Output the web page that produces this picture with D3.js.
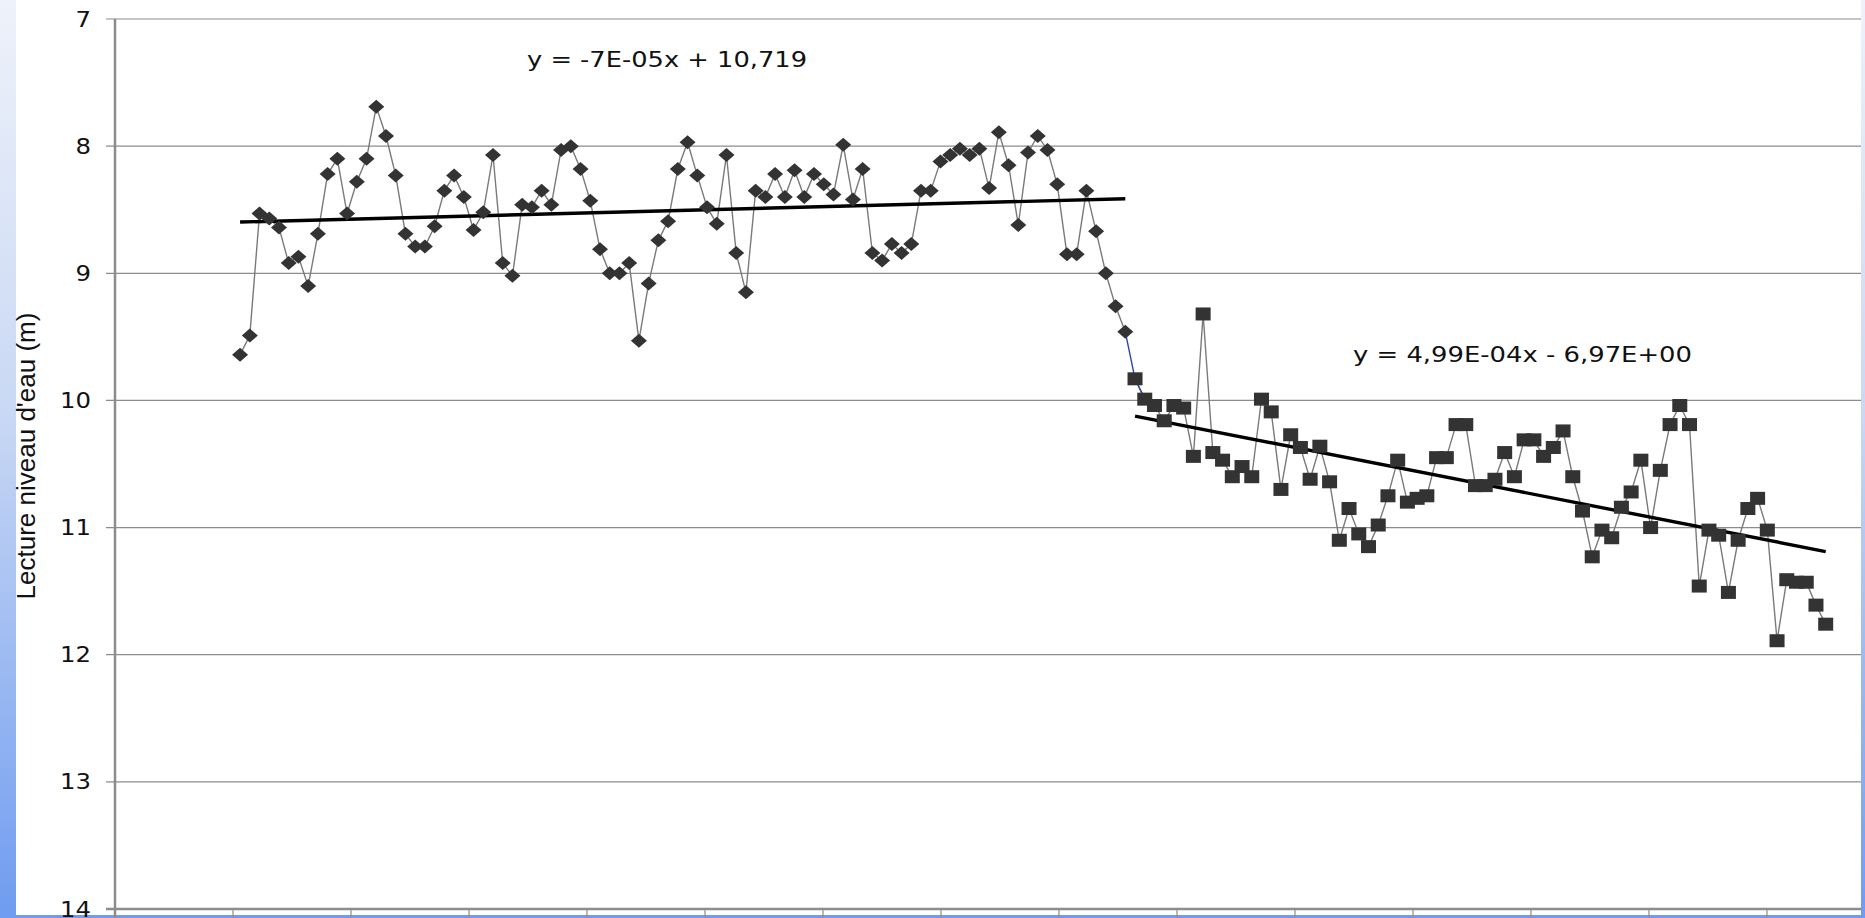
<!DOCTYPE html>
<html>
<head>
<meta charset="utf-8">
<script src="https://cdn.jsdelivr.net/npm/d3@7"></script>
<style>
  html, body { margin: 0; padding: 0; background: #ffffff; }
  svg { display: block; }
</style>
</head>
<body>
<svg id="chart"></svg>
<script>
var w = 1865;
var h = 918;

// water level readings (m), first period (diamonds)
var niveau1 = [
  9.64, 9.49, 8.53, 8.57, 8.64, 8.92, 8.87, 9.10, 8.69, 8.22,
  8.10, 8.53, 8.28, 8.10, 7.69, 7.92, 8.23, 8.69, 8.79, 8.79,
  8.63, 8.35, 8.23, 8.40, 8.66, 8.52, 8.07, 8.92, 9.02, 8.46,
  8.48, 8.35, 8.46, 8.03, 8.00, 8.18, 8.43, 8.81, 9.00, 9.00,
  8.92, 9.53, 9.08, 8.74, 8.59, 8.18, 7.97, 8.23, 8.48, 8.61,
  8.07, 8.84, 9.15, 8.35, 8.40, 8.22, 8.40, 8.19, 8.40, 8.22,
  8.30, 8.38, 7.99, 8.42, 8.18, 8.84, 8.90, 8.77, 8.84, 8.77,
  8.35, 8.35, 8.12, 8.07, 8.02, 8.07, 8.02, 8.33, 7.89, 8.15,
  8.62, 8.05, 7.92, 8.03, 8.30, 8.85, 8.85, 8.35, 8.67, 9.00,
  9.26, 9.46
];

// water level readings (m), second period (squares)
var niveau2 = [
  9.83, 9.99, 10.04, 10.16, 10.04, 10.06, 10.44, 9.32, 10.41, 10.47,
  10.60, 10.52, 10.60, 9.99, 10.09, 10.70, 10.27, 10.37, 10.62, 10.36,
  10.64, 11.10, 10.85, 11.05, 11.15, 10.98, 10.75, 10.47, 10.80, 10.77,
  10.75, 10.45, 10.45, 10.19, 10.19, 10.67, 10.67, 10.62, 10.41, 10.60,
  10.31, 10.31, 10.44, 10.37, 10.24, 10.60, 10.87, 11.23, 11.02, 11.08,
  10.84, 10.72, 10.47, 11.00, 10.55, 10.19, 10.04, 10.19, 11.46, 11.02,
  11.06, 11.51, 11.10, 10.85, 10.77, 11.02, 11.89, 11.41, 11.43, 11.43,
  11.61, 11.76
];

var yTicks = [7, 8, 9, 10, 11, 12, 13, 14];
var xTicks = d3.range(0, 15);   // one tick per year
var eq1 = "y = -7E-05x + 10,719";
var eq2 = "y = 4,99E-04x - 6,97E+00";
var yLabel = "Lecture niveau d'eau (m)";

// readings are roughly every 30 days, first one ~1 year after axis start
var firstReading = 1.06;
var readingsPerYear = 12.13;

var plotLeft = 115, plotRight = 1859, plotTop = 19, plotBottom = 909;

var x = d3.scaleLinear().domain([0, 14.78]).range([plotLeft, plotRight]);
var y = d3.scaleLinear().domain([7, 14]).range([plotTop, plotBottom]);

var data1 = niveau1.map(function(v, i) {
  return {t: firstReading + i / readingsPerYear, v: v};
});
var data2 = niveau2.map(function(v, i) {
  return {t: firstReading + (i + niveau1.length) / readingsPerYear, v: v};
});

var svg = d3.select("#chart").attr("width", w).attr("height", h);

// slide background
var grad = svg.append("defs").append("linearGradient")
  .attr("id", "bg").attr("x1", 0).attr("y1", 0).attr("x2", 0).attr("y2", 1);
grad.append("stop").attr("offset", "0%").attr("stop-color", "#eef2fa");
grad.append("stop").attr("offset", "45%").attr("stop-color", "#c9d8f4");
grad.append("stop").attr("offset", "100%").attr("stop-color", "#6f9cf0");

svg.append("rect").attr("width", w).attr("height", h).attr("fill", "url(#bg)");
svg.append("rect").attr("x", 16).attr("y", 0)
  .attr("width", 1861 - 16).attr("height", 915).attr("fill", "#ffffff");

// gridlines
svg.append("g").selectAll("line")
  .data(yTicks.slice(0, -1))
  .enter().append("line")
  .attr("x1", plotLeft - 9).attr("x2", 1861)
  .attr("y1", function(d) { return y(d); })
  .attr("y2", function(d) { return y(d); })
  .attr("stroke", "#8c8c8c").attr("stroke-width", 1.2);

// x axis line and ticks
svg.append("line")
  .attr("x1", plotLeft - 9).attr("x2", 1861)
  .attr("y1", y(14)).attr("y2", y(14))
  .attr("stroke", "#8c8c8c").attr("stroke-width", 2.5);

svg.append("g").selectAll("line")
  .data(xTicks)
  .enter().append("line")
  .attr("x1", function(d) { return x(d); })
  .attr("x2", function(d) { return x(d); })
  .attr("y1", y(14)).attr("y2", h)
  .attr("stroke", "#8c8c8c").attr("stroke-width", 1.2);

// y axis line
svg.append("line")
  .attr("x1", plotLeft).attr("x2", plotLeft)
  .attr("y1", y(7)).attr("y2", h)
  .attr("stroke", "#8c8c8c").attr("stroke-width", 2.5);

function stretch(sel, k) {
  sel.each(function() {
    var len = this.getComputedTextLength();
    d3.select(this).attr("textLength", len * k).attr("lengthAdjust", "spacingAndGlyphs");
  });
}

// y tick labels
var yl = svg.append("g").selectAll("text")
  .data(yTicks)
  .enter().append("text")
  .attr("x", 91)
  .attr("y", function(d) { return y(d); })
  .attr("dy", "0.36em")
  .attr("text-anchor", "end")
  .style("font-family", "'DejaVu Sans', Verdana, sans-serif")
  .style("font-size", "21px")
  .attr("fill", "#111")
  .text(function(d) { return d; });
stretch(yl, 1.16);

svg.append("text")
  .attr("transform", "translate(" + 35 + "," + 456 + ") rotate(-90)")
  .attr("text-anchor", "middle")
  .style("font-family", "'Liberation Sans Narrow', 'Arial Narrow', sans-serif")
  .style("font-size", "26px")
  .attr("fill", "#111")
  .text(yLabel);

// least squares trend
function trend(data) {
  var mx = d3.mean(data, function(d) { return d.t; });
  var my = d3.mean(data, function(d) { return d.v; });
  var sxy = d3.sum(data, function(d) { return (d.t - mx) * (d.v - my); });
  var sxx = d3.sum(data, function(d) { return (d.t - mx) * (d.t - mx); });
  var b = sxy / sxx;
  var t0 = data[0].t, t1 = data[data.length - 1].t;
  return [{t: t0, v: my + b * (t0 - mx)}, {t: t1, v: my + b * (t1 - mx)}];
}

var line = d3.line()
  .x(function(d) { return x(d.t); })
  .y(function(d) { return y(d.v); });

svg.append("path")
  .attr("d", line(data1))
  .attr("fill", "none").attr("stroke", "#7a7a7a").attr("stroke-width", 1.4);
svg.append("path")
  .attr("d", line(data2))
  .attr("fill", "none").attr("stroke", "#7a7a7a").attr("stroke-width", 1.4);

// link between the two periods
svg.append("path")
  .attr("d", line([data1[data1.length - 1], data2[0], data2[1]]))
  .attr("fill", "none").attr("stroke", "#3040b0").attr("stroke-width", 1.4);

svg.append("path")
  .attr("d", line(trend(data1)))
  .attr("stroke", "#000").attr("stroke-width", 3.4);
svg.append("path")
  .attr("d", line(trend(data2)))
  .attr("stroke", "#000").attr("stroke-width", 3.4);

svg.append("g").selectAll("path")
  .data(data1)
  .enter().append("path")
  .attr("d", "M0,-7L8,0L0,7L-8,0Z")
  .attr("transform", function(d) { return "translate(" + x(d.t) + "," + y(d.v) + ")"; })
  .attr("fill", "#333333");

svg.append("g").selectAll("rect")
  .data(data2)
  .enter().append("rect")
  .attr("x", function(d) { return x(d.t) - 7.5; })
  .attr("y", function(d) { return y(d.v) - 6.5; })
  .attr("width", 15).attr("height", 13)
  .attr("fill", "#333333");

// trend equations
var e1 = svg.append("text")
  .attr("x", 527).attr("y", 67)
  .style("font-family", "'DejaVu Sans', Verdana, sans-serif")
  .style("font-size", "22px")
  .attr("fill", "#111")
  .text(eq1);
e1.attr("textLength", 280).attr("lengthAdjust", "spacingAndGlyphs");

var e2 = svg.append("text")
  .attr("x", 1353).attr("y", 362)
  .style("font-family", "'DejaVu Sans', Verdana, sans-serif")
  .style("font-size", "22px")
  .attr("fill", "#111")
  .text(eq2);
e2.attr("textLength", 339).attr("lengthAdjust", "spacingAndGlyphs");
</script>
</body>
</html>
